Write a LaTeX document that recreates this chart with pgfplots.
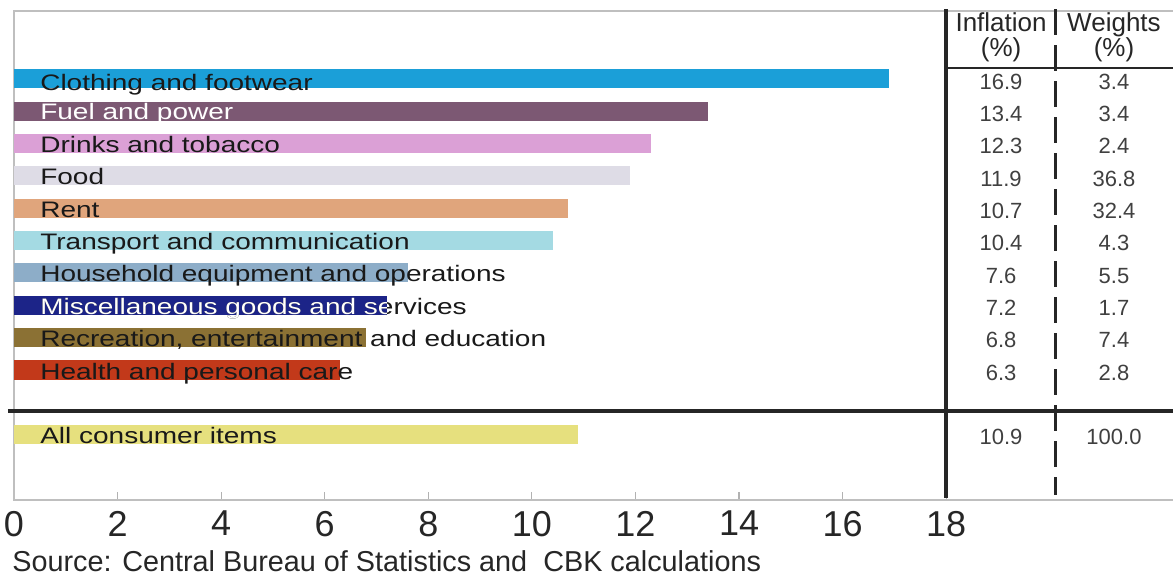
\documentclass[border=0pt]{standalone}
\usepackage{pgfplots}
\pgfplotsset{compat=1.18}
\usepackage{fontspec}
\setmainfont{Liberation Sans}
\usepackage{graphicx}

% bar colours
\definecolor{cCloth}{HTML}{1B9FD8}
\definecolor{cFuel}{HTML}{7C5873}
\definecolor{cDrink}{HTML}{DBA0D6}
\definecolor{cFood}{HTML}{DEDCE6}
\definecolor{cRent}{HTML}{E0A57C}
\definecolor{cTrans}{HTML}{A4DAE3}
\definecolor{cHouse}{HTML}{8DADC8}
\definecolor{cMisc}{HTML}{1C2488}
\definecolor{cRec}{HTML}{8B7134}
\definecolor{cHealth}{HTML}{C2391A}
\definecolor{cAll}{HTML}{E6E07E}

\newcommand{\barfont}{\fontsize{14}{14}\selectfont}
\newcommand{\lab}[1]{\scalebox{1}[0.8]{#1}}
\newcommand{\tabfont}{\fontsize{11}{11}\selectfont}
\newcommand{\hdrfont}{\fontsize{13}{12.5}\selectfont}

\begin{document}
\begin{tikzpicture}
\begin{axis}[
  name=ax,
  scale only axis,
  width=579.5pt, height=244.5pt,
  xmin=0, xmax=22.38,
  ymin=-1.02, ymax=14.10,
  clip=false,
  axis line style={draw=none},
  xtick={0,2,...,18},
  xticklabels={0,2,4,6,8,10,12,14,16,18},
  xticklabel style={font=\fontsize{18}{18}\selectfont, text=black!85, yshift=-2pt},
  xtick pos=bottom,
  tick align=inside,
  major tick length=4pt,
  tick style={draw=gray!60, line width=0.6pt},
  ytick=\empty,
  xbar, bar shift=0pt, bar width=0.59,
]
% frame: top, left and bottom edges
\draw[gray!50, line width=0.6pt] (rel axis cs:1,1) -- (rel axis cs:0,1) -- (rel axis cs:0,0) -- (rel axis cs:1,0);

% inflation by group (%)
\addplot[fill=cCloth, draw=none]  coordinates {(16.9,12)};
\addplot[fill=cFuel, draw=none]   coordinates {(13.4,11)};
\addplot[fill=cDrink, draw=none]  coordinates {(12.3,10)};
\addplot[fill=cFood, draw=none]   coordinates {(11.9,9)};
\addplot[fill=cRent, draw=none]   coordinates {(10.7,8)};
\addplot[fill=cTrans, draw=none]  coordinates {(10.4,7)};
\addplot[fill=cHouse, draw=none]  coordinates {(7.6,6)};
\addplot[fill=cMisc, draw=none]   coordinates {(7.2,5)};
\addplot[fill=cRec, draw=none]    coordinates {(6.8,4)};
\addplot[fill=cHealth, draw=none] coordinates {(6.3,3)};
\addplot[fill=cAll, draw=none]    coordinates {(10.9,1)};

% group names on the bars, baseline near the bar's lower edge
\tikzset{bl/.style={anchor=base west, inner sep=0pt, font=\barfont, text=black!90}}
\node[bl] at (axis cs:0.5,11.65) {\lab{Clothing and footwear}};
\node[bl, text=white] at (axis cs:0.5,10.73) {\lab{Fuel and power}};
\node[bl] at (axis cs:0.5,9.73) {\lab{Drinks and tobacco}};
\node[bl] at (axis cs:0.5,8.73) {\lab{Food}};
\node[bl] at (axis cs:0.5,7.73) {\lab{Rent}};
\node[bl] at (axis cs:0.5,6.72) {\lab{Transport and communication}};
\node[bl] at (axis cs:0.5,5.73) {\lab{Household equipment and operations}};
\node[bl] at (axis cs:0.5,4.72) {\lab{Miscellaneous goods and services}};
\begin{scope}
  \clip (axis cs:0,4.5) rectangle (axis cs:7.2,5.5);
  \node[bl, text=white] at (axis cs:0.5,4.72) {\lab{Miscellaneous goods and services}};
\end{scope}
\node[bl] at (axis cs:0.5,3.72) {\lab{Recreation, entertainment and education}};
\node[bl] at (axis cs:0.5,2.72) {\lab{Health and personal care}};
\node[bl] at (axis cs:0.5,0.72) {\lab{All consumer items}};

% table rules
\draw[black!85, line width=1.8pt] (axis cs:18,14.15) -- (axis cs:18,-0.95);
\draw[black!85, line width=1.2pt] (axis cs:18,12.34) -- (axis cs:22.38,12.34);
\draw[black!85, line width=1.6pt] (axis cs:-0.12,1.73) -- (axis cs:22.38,1.73);
\draw[black!85, line width=1.5pt, dash pattern=on 13pt off 5pt] (axis cs:20.12,14.15) -- (axis cs:20.12,-0.87);

% table header
\node[align=center, font=\hdrfont, text=black!85] at (axis cs:19.06,13.29) {Inflation\\(\%)};
\node[align=center, font=\hdrfont, text=black!85] at (axis cs:21.24,13.29) {Weights\\(\%)};

% table body: inflation (left column) and weights (right column)
\tikzset{tv/.style={font=\tabfont, text=black!75, inner sep=0pt}}
\node[tv] at (axis cs:19.06,11.92) {16.9};  \node[tv] at (axis cs:21.24,11.92) {3.4};
\node[tv] at (axis cs:19.06,10.92) {13.4};  \node[tv] at (axis cs:21.24,10.92) {3.4};
\node[tv] at (axis cs:19.06,9.92)  {12.3};  \node[tv] at (axis cs:21.24,9.92)  {2.4};
\node[tv] at (axis cs:19.06,8.92)  {11.9};  \node[tv] at (axis cs:21.24,8.92)  {36.8};
\node[tv] at (axis cs:19.06,7.92)  {10.7};  \node[tv] at (axis cs:21.24,7.92)  {32.4};
\node[tv] at (axis cs:19.06,6.92)  {10.4};  \node[tv] at (axis cs:21.24,6.92)  {4.3};
\node[tv] at (axis cs:19.06,5.92)  {7.6};   \node[tv] at (axis cs:21.24,5.92)  {5.5};
\node[tv] at (axis cs:19.06,4.92)  {7.2};   \node[tv] at (axis cs:21.24,4.92)  {1.7};
\node[tv] at (axis cs:19.06,3.92)  {6.8};   \node[tv] at (axis cs:21.24,3.92)  {7.4};
\node[tv] at (axis cs:19.06,2.92)  {6.3};   \node[tv] at (axis cs:21.24,2.92)  {2.8};
\node[tv] at (axis cs:19.06,0.92)  {10.9};  \node[tv] at (axis cs:21.24,0.92)  {100.0};
\end{axis}
\node[anchor=west, inner sep=0pt, font=\fontsize{14.4}{14}\selectfont, text=black!85]
  at ([shift={(-1pt,-30.5pt)}]ax.south west) {Source: Central Bureau of Statistics and\ \ CBK calculations};
\pgfresetboundingbox
\path ([shift={(-7pt,-38pt)}]ax.south west) rectangle ([shift={(0pt,5.5pt)}]ax.north east);
\end{tikzpicture}
\end{document}
